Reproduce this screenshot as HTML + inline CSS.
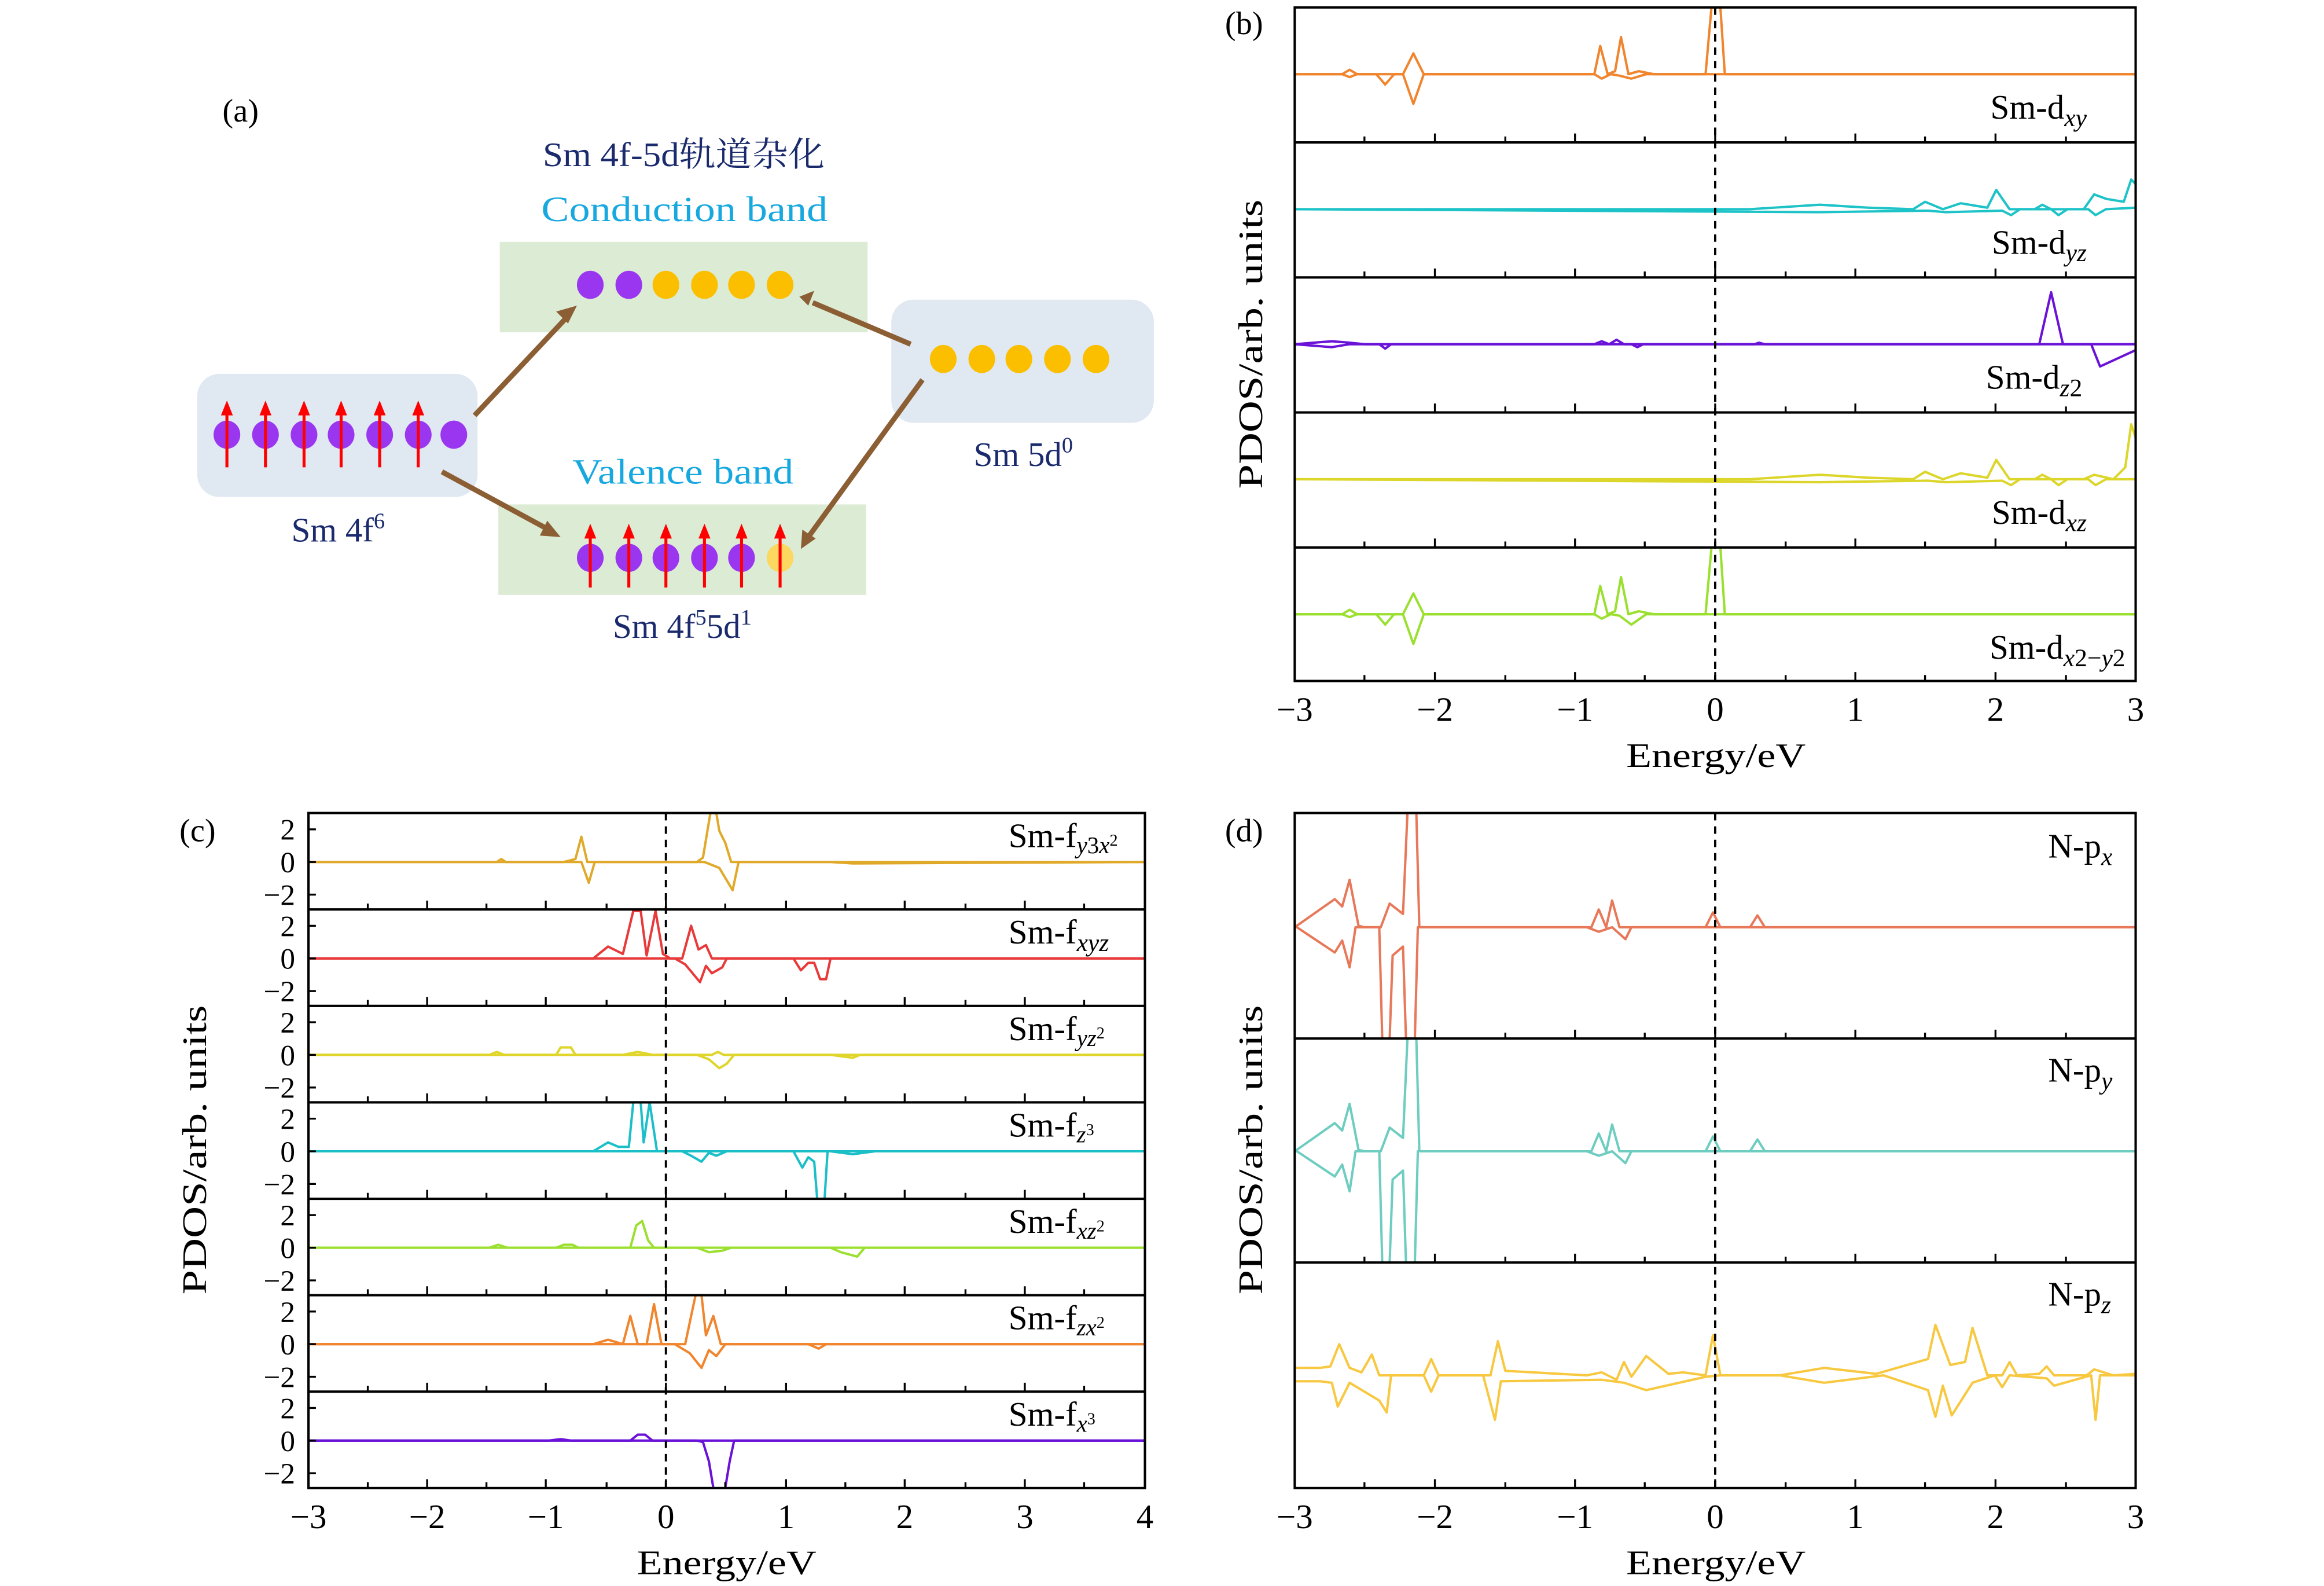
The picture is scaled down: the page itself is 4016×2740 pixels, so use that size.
<!DOCTYPE html>
<html><head><meta charset="utf-8"><style>
html,body{margin:0;padding:0;background:#fff;}
svg{display:block;}
text{font-family:"Liberation Serif","Noto Serif CJK SC",serif;}
</style></head><body>
<svg width="4016" height="2740" viewBox="0 0 1567 1069" preserveAspectRatio="none" xmlns="http://www.w3.org/2000/svg">
<defs>
<g id="tb"><path d="M967.5 0v-6M1062 0v-6M1156.5 0v-6M1251 0v-6M1345.5 0v-6M920 0v-4M1015 0v-4M1109 0v-4M1204 0v-4M1298 0v-4M1393 0v-4" stroke="#000" stroke-width="1.3"/></g>
<g id="tc"><path d="M288 0v-6M368 0v-6M449 0v-6M530 0v-6M610 0v-6M691 0v-6M248 0v-4M328 0v-4M409 0v-4M489 0v-4M570 0v-4M651 0v-4M731 0v-4" stroke="#000" stroke-width="1.3"/></g>
<g id="ty"><path d="M208 -22h5M208 0h5M208 22h5" stroke="#000" stroke-width="1.3"/>
<text x="199" y="-15" font-size="20" text-anchor="end">2</text>
<text x="199" y="7" font-size="20" text-anchor="end">0</text>
<text x="199" y="29" font-size="20" text-anchor="end">−2</text></g>
</defs>

<!-- Panel (a) -->
<text x="150" y="82" font-size="22">(a)</text>
<text x="366" y="112" font-size="23" fill="#1a2a6c" textLength="190" lengthAdjust="spacingAndGlyphs">Sm 4f-5d轨道杂化</text>
<text x="365" y="149" font-size="24" fill="#18a8e0" textLength="193" lengthAdjust="spacingAndGlyphs">Conduction band</text>
<rect x="337" y="163" width="248" height="61" fill="#dcebd4"/>
<rect x="133" y="252" width="189" height="83" rx="15" fill="#e0e8f2"/>
<rect x="601" y="202" width="177" height="83" rx="15" fill="#e0e8f2"/>
<rect x="336" y="340" width="248" height="61" fill="#dcebd4"/>
<g fill="#9b36f0">
<ellipse cx="398" cy="192" rx="9" ry="9.5"/><ellipse cx="424" cy="192" rx="9" ry="9.5"/>
<ellipse cx="153" cy="293" rx="9" ry="9.5"/><ellipse cx="179" cy="293" rx="9" ry="9.5"/><ellipse cx="205" cy="293" rx="9" ry="9.5"/><ellipse cx="230" cy="293" rx="9" ry="9.5"/><ellipse cx="256" cy="293" rx="9" ry="9.5"/><ellipse cx="282" cy="293" rx="9" ry="9.5"/><ellipse cx="306" cy="293" rx="9" ry="9.5"/>
<ellipse cx="398" cy="376" rx="9" ry="9.5"/><ellipse cx="424" cy="376" rx="9" ry="9.5"/><ellipse cx="449" cy="376" rx="9" ry="9.5"/><ellipse cx="475" cy="376" rx="9" ry="9.5"/><ellipse cx="500" cy="376" rx="9" ry="9.5"/>
</g>
<g fill="#fbbf00">
<ellipse cx="449" cy="192" rx="9" ry="9.5"/><ellipse cx="475" cy="192" rx="9" ry="9.5"/><ellipse cx="500" cy="192" rx="9" ry="9.5"/><ellipse cx="526" cy="192" rx="9" ry="9.5"/>
<ellipse cx="636" cy="242" rx="9" ry="9.5"/><ellipse cx="662" cy="242" rx="9" ry="9.5"/><ellipse cx="687" cy="242" rx="9" ry="9.5"/><ellipse cx="713" cy="242" rx="9" ry="9.5"/><ellipse cx="739" cy="242" rx="9" ry="9.5"/>
</g>
<ellipse cx="526" cy="376" rx="9" ry="9.5" fill="#fcd860"/>
<g stroke="#f00" stroke-width="2" fill="#f00">
<path d="M153 315V278M179 315V278M205 315V278M230 315V278M256 315V278M282 315V278"/>
<path d="M398 396V361M424 396V361M449 396V361M475 396V361M500 396V361M526 396V361"/>
</g>
<g fill="#f00">
<path d="M153 270l-4 10h8zM179 270l-4 10h8zM205 270l-4 10h8zM230 270l-4 10h8zM256 270l-4 10h8zM282 270l-4 10h8z"/>
<path d="M398 353l-4 10h8zM424 353l-4 10h8zM449 353l-4 10h8zM475 353l-4 10h8zM500 353l-4 10h8zM526 353l-4 10h8z"/>
</g>
<g stroke="#8b5e34" stroke-width="3.5" fill="none">
<path d="M320 280L383 213"/><path d="M298 318L370 357"/><path d="M614 232L548 204"/><path d="M622 256L545 362"/>
</g>
<g fill="#8b5e34">
<path d="M389 206l-14 4l8 8z"/><path d="M378 362l-9 -11l-5 10z"/><path d="M539 200l10 -4l-4 10z"/><path d="M540 370l1 -13l9 6z"/>
</g>
<text x="228" y="365" font-size="23" fill="#1a2a6c" text-anchor="middle">Sm 4f<tspan font-size="15" dy="-9">6</tspan></text>
<text x="690" y="314" font-size="23" fill="#1a2a6c" text-anchor="middle">Sm 5d<tspan font-size="15" dy="-9">0</tspan></text>
<text x="386" y="326" font-size="24" fill="#18a8e0" textLength="149" lengthAdjust="spacingAndGlyphs">Valence band</text>
<text x="460" y="430" font-size="23" fill="#1a2a6c" text-anchor="middle">Sm 4f<tspan font-size="15" dy="-9">5</tspan><tspan dy="9">5d</tspan><tspan font-size="15" dy="-9">1</tspan></text>

<!-- Panel (b) -->
<text x="826" y="23" font-size="22">(b)</text>
<g fill="none" stroke-width="1.6" stroke-linejoin="round">
<g stroke="#f0852d">
<path d="M873 50L905 50L910 47L915 50L946 50L953 36L960 50L1075 50L1079 31L1084 50L1089 48L1093 25L1098 50L1105 48L1115 50L1150 50L1154 5L1160 5L1163 50L1440 50"/>
<path d="M873 50L905 50L910 52L915 50L928 50L934 57L940 50L946 50L953 70L960 50L1075 50L1080 53L1086 50L1092 51L1100 53L1110 50L1440 50"/>
</g>
<g stroke="#1ec3c8">
<path d="M873 141L1180 141L1227 138L1260 140L1290 141L1298 136L1310 141L1322 137L1340 140L1346 128L1355 141L1372 141L1377 138L1383 141L1405 141L1412 131L1420 134L1432 136L1437 121L1440 124"/>
<path d="M873 141L1227 143L1300 142L1312 143L1350 142L1356 145L1362 141L1383 141L1388 145L1394 141L1408 141L1413 145L1420 141L1440 140"/>
</g>
<g stroke="#6a12d8">
<path d="M873 232L898 230L910 231L920 232L1075 232L1080 230L1085 232L1090 229L1095 232L1183 232L1186 231L1190 232L1375 232L1383 197L1391 232L1440 232"/>
<path d="M873 232L898 234L910 232L930 232L934 235L938 232L1100 232L1104 234L1108 232L1410 232L1416 247L1440 236"/>
</g>
<g stroke="#dcd52a">
<path d="M873 323L1180 323L1227 320L1260 322L1290 323L1298 318L1310 323L1322 319L1340 322L1346 310L1355 323L1372 323L1377 320L1383 323L1405 323L1412 320L1425 323L1433 315L1437 286L1440 295"/>
<path d="M873 323L1227 325L1300 324L1312 325L1350 324L1356 327L1362 323L1383 323L1388 327L1394 323L1408 323L1413 327L1420 323L1440 323"/>
</g>
<g stroke="#9be030">
<path d="M873 414L905 414L910 411L915 414L946 414L953 400L960 414L1075 414L1079 395L1084 414L1089 412L1093 389L1098 414L1105 412L1115 414L1150 414L1154 369L1160 369L1163 414L1440 414"/>
<path d="M873 414L905 414L910 416L915 414L928 414L934 421L940 414L946 414L953 434L960 414L1075 414L1080 417L1086 414L1092 415L1100 421L1110 414L1440 414"/>
</g>
</g>
<path d="M1156.5 5V459" stroke="#000" stroke-width="1.5" stroke-dasharray="5,4"/>
<rect x="873" y="5" width="567" height="454" fill="none" stroke="#000" stroke-width="1.6"/>
<path d="M873 96H1440M873 187H1440M873 278H1440M873 369H1440" stroke="#000" stroke-width="1.6"/>
<use href="#tb" y="96"/><use href="#tb" y="187"/><use href="#tb" y="278"/><use href="#tb" y="369"/><use href="#tb" y="459"/>
<g font-size="23">
<text x="1407" y="80" text-anchor="end">Sm-d<tspan font-size="17" font-style="italic" dy="5">xy</tspan></text>
<text x="1407" y="171" text-anchor="end">Sm-d<tspan font-size="17" font-style="italic" dy="5">yz</tspan></text>
<text x="1404" y="262" text-anchor="end">Sm-d<tspan font-size="17" dy="5"><tspan font-style="italic">z</tspan>2</tspan></text>
<text x="1407" y="353" text-anchor="end">Sm-d<tspan font-size="17" font-style="italic" dy="5">xz</tspan></text>
<text x="1433" y="444" text-anchor="end">Sm-d<tspan font-size="17" dy="5"><tspan font-style="italic">x</tspan>2−<tspan font-style="italic">y</tspan>2</tspan></text>
</g>
<g font-size="23" text-anchor="middle">
<text x="873" y="486">−3</text><text x="967.5" y="486">−2</text><text x="1062" y="486">−1</text><text x="1156.5" y="486">0</text><text x="1251" y="486">1</text><text x="1345.5" y="486">2</text><text x="1440" y="486">3</text>
<text x="1157" y="517" textLength="121" lengthAdjust="spacingAndGlyphs">Energy/eV</text>
<text transform="translate(851,232) rotate(-90)" textLength="195" lengthAdjust="spacingAndGlyphs">PDOS/arb. units</text>
</g>

<!-- Panel (c) -->
<text x="121" y="567" font-size="22">(c)</text>
<g fill="none" stroke-width="1.6" stroke-linejoin="round">
<g stroke="#e0a92a">
<path d="M208 581L335 581L338 579L341 581L380 581L388 579L392 564L396 581L470 581L474 578L479 548L483 548L485 560L489 568L493 581L772 581"/>
<path d="M208 581L385 581L392 581L397 595L401 581L475 581L485 585L494 600L498 581L560 581L575 582L772 581"/>
</g>
<g stroke="#e83a3a">
<path d="M208 646L400 646L410 638L420 643L427 614L432 614L436 644L442 614L447 643L452 646L460 646L466 624L471 640L476 637L480 646L772 646"/>
<path d="M208 646L455 646L462 650L472 662L476 651L480 656L487 652L490 646L535 646L540 654L545 649L549 649L553 660L557 660L560 646L772 646"/>
</g>
<g stroke="#e0d52a">
<path d="M208 711L330 711L335 709L340 711L375 711L378 706L385 706L388 711L420 711L430 709L440 711L480 711L484 709L488 711L772 711"/>
<path d="M208 711L470 711L478 714L485 720L490 717L495 711L560 711L575 713L580 711L772 711"/>
</g>
<g stroke="#1bbfc8">
<path d="M208 776L400 776L410 770L417 773L424 773L427 743L432 743L434 770L438 743L443 776L772 776"/>
<path d="M208 776L460 776L466 779L473 783L478 777L483 779L490 776L535 776L541 787L545 780L549 783L551 808M556 808L558 776L560 776L575 778L590 776L772 776"/>
</g>
<g stroke="#9be030">
<path d="M208 841L330 841L336 839L342 841L375 841L380 839L386 839L390 841L425 841L429 826L433 823L437 836L441 841L772 841"/>
<path d="M208 841L470 841L478 844L487 843L493 841L560 841L567 844L578 847L583 841L772 841"/>
</g>
<g stroke="#f0852d">
<path d="M208 906L400 906L410 903L420 906L425 887L430 906L436 906L441 879L446 906L452 906L462 906L466 887L469 873L473 873L476 900L481 887L486 906L772 906"/>
<path d="M208 906L455 906L465 912L473 922L478 910L483 914L489 906L545 906L552 909L557 906L772 906"/>
</g>
<g stroke="#6a12d8">
<path d="M208 971L370 971L378 970L385 971L425 971L430 967L435 967L440 971L772 971"/>
<path d="M208 971L470 971L474 972L478 985L481 1003M489 1003L492 985L495 971L772 971"/>
</g>
</g>
<path d="M449 548V1003" stroke="#000" stroke-width="1.5" stroke-dasharray="5,4"/>
<rect x="208" y="548" width="564" height="455" fill="none" stroke="#000" stroke-width="1.6"/>
<path d="M208 613H772M208 678H772M208 743H772M208 808H772M208 873H772M208 938H772" stroke="#000" stroke-width="1.6"/>
<use href="#tc" y="613"/><use href="#tc" y="678"/><use href="#tc" y="743"/><use href="#tc" y="808"/><use href="#tc" y="873"/><use href="#tc" y="938"/><use href="#tc" y="1003"/>
<use href="#ty" y="581"/><use href="#ty" y="646"/><use href="#ty" y="711"/><use href="#ty" y="776"/><use href="#ty" y="841"/><use href="#ty" y="906"/><use href="#ty" y="971"/>
<g font-size="23">
<text x="680" y="571">Sm-f<tspan font-size="16" dy="4"><tspan font-style="italic">y</tspan>3<tspan font-style="italic">x</tspan><tspan font-size="11" dy="-5">2</tspan></tspan></text>
<text x="680" y="636">Sm-f<tspan font-size="17" font-style="italic" dy="5">xyz</tspan></text>
<text x="680" y="701">Sm-f<tspan font-size="16" dy="4"><tspan font-style="italic">yz</tspan><tspan font-size="11" dy="-5">2</tspan></tspan></text>
<text x="680" y="766">Sm-f<tspan font-size="16" dy="4"><tspan font-style="italic">z</tspan><tspan font-size="11" dy="-5">3</tspan></tspan></text>
<text x="680" y="831">Sm-f<tspan font-size="16" dy="4"><tspan font-style="italic">xz</tspan><tspan font-size="11" dy="-5">2</tspan></tspan></text>
<text x="680" y="896">Sm-f<tspan font-size="16" dy="4"><tspan font-style="italic">zx</tspan><tspan font-size="11" dy="-5">2</tspan></tspan></text>
<text x="680" y="961">Sm-f<tspan font-size="16" dy="4"><tspan font-style="italic">x</tspan><tspan font-size="11" dy="-5">3</tspan></tspan></text>
</g>
<g font-size="23" text-anchor="middle">
<text x="208" y="1030">−3</text><text x="288" y="1030">−2</text><text x="368" y="1030">−1</text><text x="449" y="1030">0</text><text x="530" y="1030">1</text><text x="610" y="1030">2</text><text x="691" y="1030">3</text><text x="772" y="1030">4</text>
<text x="490" y="1061" textLength="121" lengthAdjust="spacingAndGlyphs">Energy/eV</text>
<text transform="translate(139,775) rotate(-90)" textLength="195" lengthAdjust="spacingAndGlyphs">PDOS/arb. units</text>
</g>

<!-- Panel (d) -->
<text x="826" y="567" font-size="22">(d)</text>
<g fill="none" stroke-width="1.6" stroke-linejoin="round">
<g stroke="#e8785a">
<path d="M873 625L900 606L905 611L910 593L916 624L920 625L931 625L937 609L946 616L949 548L955 548L957 625L1073 625L1078 613L1083 625L1087 607L1092 625L1150 625L1155 615L1160 625L1180 625L1185 617L1190 625L1440 625"/>
<path d="M873 624L900 642L905 634L910 652L914 625L930 625L932 700M937 700L939 644L946 638L948 700M954 700L956 625L1070 625L1078 628L1087 625L1096 633L1100 625L1440 625"/>
</g>
<g stroke="#6ecdc0">
<path d="M873 776L900 757L905 762L910 744L916 775L920 776L931 776L937 760L946 767L949 700L955 700L957 776L1073 776L1078 764L1083 776L1087 758L1092 776L1150 776L1155 766L1160 776L1180 776L1185 768L1190 776L1440 776"/>
<path d="M873 775L900 793L905 785L910 803L914 776L930 776L932 851M937 851L939 795L946 789L948 851M954 851L956 776L1070 776L1078 779L1087 776L1096 784L1100 776L1440 776"/>
</g>
<g stroke="#f7c840">
<path d="M873 922L890 922L897 921L903 906L910 922L918 925L925 913L930 927L960 927L965 916L970 927L1005 927L1010 904L1015 924L1070 927L1080 925L1090 930L1095 918L1100 928L1110 914L1125 926L1135 925L1150 927L1155 900L1160 927L1200 927L1230 922L1265 926L1300 916L1305 893L1315 920L1325 918L1330 895L1340 927L1350 927L1355 918L1360 927L1375 926L1380 921L1385 927L1407 927L1412 923L1425 927L1440 926"/>
<path d="M873 931L890 931L898 932L902 948L910 932L930 944L935 952L938 927L960 927L965 938L970 927L1000 927L1008 957L1012 931L1080 930L1095 932L1110 937L1150 928L1160 927L1200 927L1230 932L1270 927L1300 937L1305 955L1310 934L1316 954L1330 932L1345 927L1350 935L1355 927L1380 929L1385 934L1410 927L1413 957L1416 927L1440 927"/>
</g>
</g>
<path d="M1156.5 548V1003" stroke="#000" stroke-width="1.5" stroke-dasharray="5,4"/>
<rect x="873" y="548" width="567" height="455" fill="none" stroke="#000" stroke-width="1.6"/>
<path d="M873 700H1440M873 851H1440" stroke="#000" stroke-width="1.6"/>
<use href="#tb" y="700"/><use href="#tb" y="851"/><use href="#tb" y="1003"/>
<g font-size="23">
<text x="1381" y="578">N-p<tspan font-size="17" font-style="italic" dy="5">x</tspan></text>
<text x="1381" y="729">N-p<tspan font-size="17" font-style="italic" dy="5">y</tspan></text>
<text x="1381" y="880">N-p<tspan font-size="17" font-style="italic" dy="5">z</tspan></text>
</g>
<g font-size="23" text-anchor="middle">
<text x="873" y="1030">−3</text><text x="967.5" y="1030">−2</text><text x="1062" y="1030">−1</text><text x="1156.5" y="1030">0</text><text x="1251" y="1030">1</text><text x="1345.5" y="1030">2</text><text x="1440" y="1030">3</text>
<text x="1157" y="1061" textLength="121" lengthAdjust="spacingAndGlyphs">Energy/eV</text>
<text transform="translate(851,775) rotate(-90)" textLength="195" lengthAdjust="spacingAndGlyphs">PDOS/arb. units</text>
</g>
</svg>
</body></html>
